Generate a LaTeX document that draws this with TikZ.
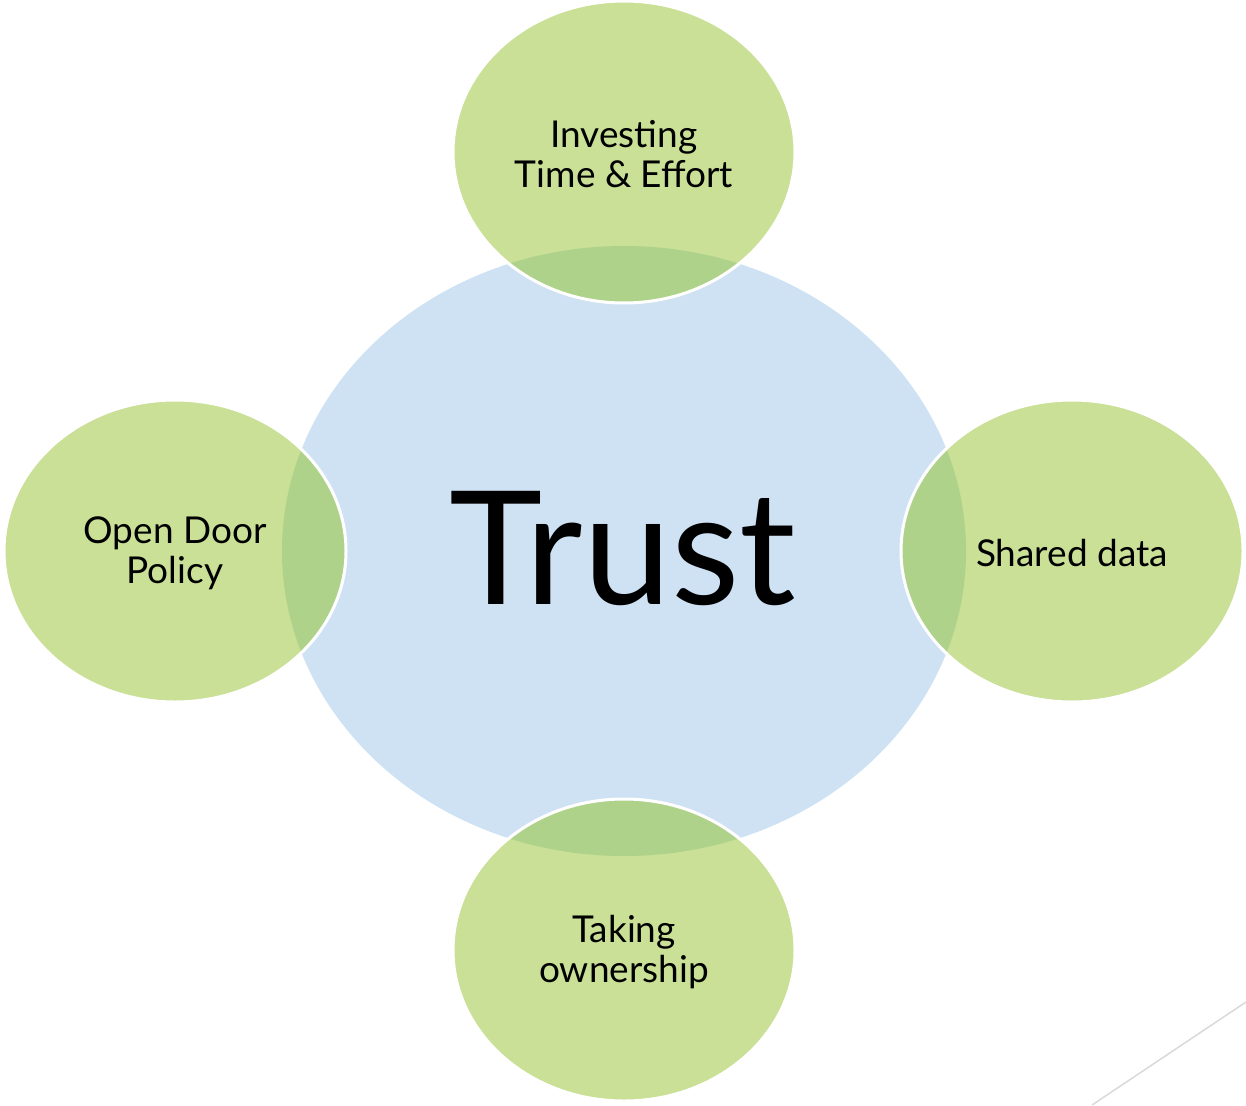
\documentclass[tikz,border=0pt]{standalone}
\usepackage{fontspec}
\setmainfont{Lato}
\definecolor{bluefill}{HTML}{CFE2F3}
\definecolor{greenfill}{HTML}{C9E096}
\definecolor{overlapfill}{HTML}{AFD28B}
\definecolor{slideline}{HTML}{D9D9D9}
\begin{document}
\begin{tikzpicture}[x=1pt,y=-1pt,
  leaf/.style={align=center,font=\fontsize{37}{40}\selectfont,text=black}]
\useasboundingbox (0,0) rectangle (1246,1105);
% central circle
\fill[bluefill] (624,551) ellipse [x radius=342, y radius=305];
\node[font=\fontsize{158}{165}\selectfont] (trust) at (623,549) {Trust};
% leaves
\foreach \cx/\cy in {624/152, 175/551, 1072/551, 624/950}{
  \fill[greenfill] (\cx,\cy) ellipse [x radius=171, y radius=151];
  \begin{scope}
    \clip (\cx,\cy) ellipse [x radius=171, y radius=151];
    \fill[overlapfill] (624,551) ellipse [x radius=342, y radius=305];
  \end{scope}
  \draw[white,line width=3] (\cx,\cy) ellipse [x radius=171, y radius=151];
}
\node[leaf] (top) at (624,154) {Investing\\Time \& Effort};
\node[leaf] (left) at (175,553) {Open Door\\Policy};
\node[leaf] (right) at (1072,553) {Shared data};
\node[leaf] (bottom) at (624,952) {Taking\\ownership};
\coordinate (la) at (1246,1002);
\coordinate (lb) at (1092,1105);
\draw[slideline,line width=1.5] (la) -- (lb);
\end{tikzpicture}
\end{document}
